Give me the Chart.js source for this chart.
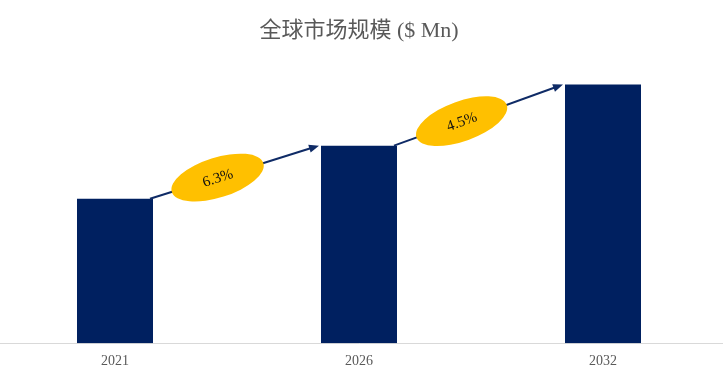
<!DOCTYPE html>
<html><head><meta charset="utf-8">
<script src="https://cdn.jsdelivr.net/npm/chart.js@4/dist/chart.umd.min.js"></script>
<style>html,body{margin:0;padding:0;background:#fff;}#wrap{width:723px;height:379px;overflow:hidden;position:relative;}#c{position:absolute;left:-7px;top:0;}</style>
</head><body><div id="wrap"><canvas id="c" width="732" height="379"></canvas></div>
<script>
const categories = ["2021", "2026", "2032"];
const marketValues = [144, 197, 258];
const cagrLabels = ["6.3%", "4.5%"];
const titleText = "全球市场规模 ($ Mn)";

const growthPlugin = {
  id: 'growth',
  afterDatasetsDraw(chart) {
    const ctx = chart.ctx;
    const meta = chart.getDatasetMeta(0);
    for (let i = 0; i < meta.data.length - 1; i++) {
      const a = meta.data[i], b = meta.data[i + 1];
      const x1 = a.x + a.width / 2 - 3, y1 = a.y;
      const x2 = b.x - b.width / 2 - 2, y2 = b.y;
      const ang = Math.atan2(y2 - y1, x2 - x1);
      ctx.save();
      ctx.strokeStyle = '#0f2b66';
      ctx.fillStyle = '#0f2b66';
      ctx.lineWidth = 2;
      ctx.beginPath();
      ctx.moveTo(x1, y1);
      ctx.lineTo(x2 - 8 * Math.cos(ang), y2 - 8 * Math.sin(ang));
      ctx.stroke();
      ctx.beginPath();
      ctx.moveTo(x2, y2);
      ctx.lineTo(x2 - 10 * Math.cos(ang) + 4 * Math.sin(ang), y2 - 10 * Math.sin(ang) - 4 * Math.cos(ang));
      ctx.lineTo(x2 - 10 * Math.cos(ang) - 4 * Math.sin(ang), y2 - 10 * Math.sin(ang) + 4 * Math.cos(ang));
      ctx.closePath();
      ctx.fill();
      const t = 0.4;
      const cx = x1 + (x2 - x1) * t, cy = y1 + (y2 - y1) * t;
      ctx.translate(cx, cy);
      ctx.rotate(ang);
      ctx.fillStyle = '#FFC000';
      ctx.beginPath();
      ctx.ellipse(0, 0, 48, 20, 0, 0, Math.PI * 2);
      ctx.fill();
      ctx.fillStyle = '#111';
      ctx.font = '15px "Liberation Serif", serif';
      ctx.textAlign = 'center';
      ctx.textBaseline = 'middle';
      ctx.fillText(cagrLabels[i], 0, 1);
      ctx.restore();
    }
  }
};

new Chart(document.getElementById('c'), {
  type: 'bar',
  data: {
    labels: categories,
    datasets: [{
      data: marketValues,
      backgroundColor: '#002060',
      barPercentage: 0.623,
      categoryPercentage: 0.5
    }]
  },
  options: {
    responsive: false,
    animation: false,
    layout: { padding: { left: 0, right: 0, top: 0, bottom: 7 } },
    plugins: {
      legend: { display: false },
      tooltip: { enabled: false },
      title: {
        display: true,
        text: titleText,
        color: '#595959',
        font: { size: 22, family: '"Liberation Serif", "Noto Sans CJK SC", serif', weight: 'normal' },
        padding: { top: 18, bottom: 10 }
      }
    },
    scales: {
      x: {
        grid: { display: false },
        border: { display: true, color: '#d9d9d9', width: 1 },
        ticks: { color: '#595959', font: { size: 14, family: '"Liberation Serif", serif' }, padding: 2 }
      },
      y: {
        display: false,
        min: 0,
        max: 288
      }
    }
  },
  plugins: [growthPlugin]
});
</script></body></html>
